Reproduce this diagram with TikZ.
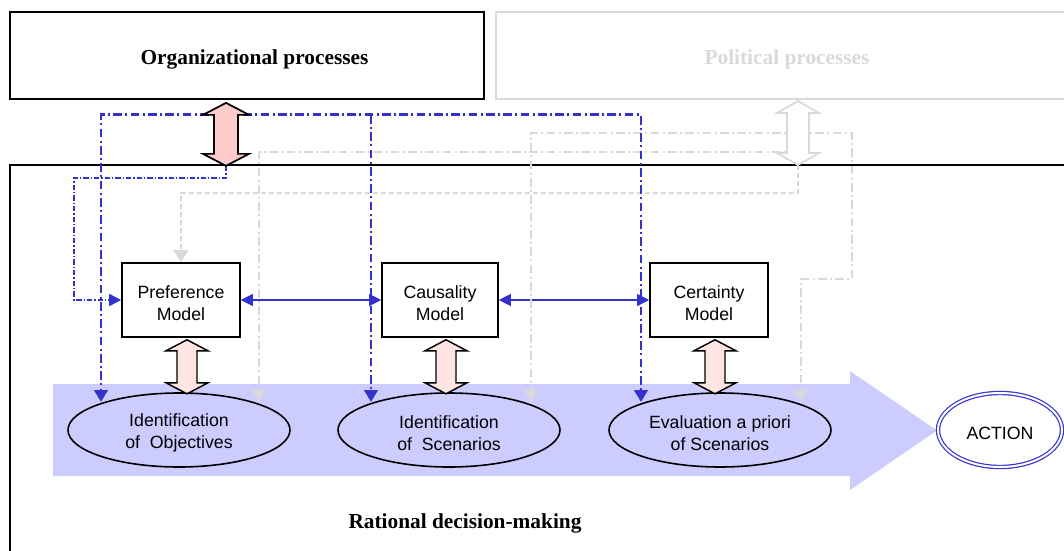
\documentclass[tikz,border=0pt]{standalone}
\usepackage{fontspec}
\setmainfont{Liberation Serif}
\setsansfont{Liberation Sans}
\usepackage{tikz}
\usetikzlibrary{arrows.meta,positioning,calc,shapes}

\definecolor{orgblue}{RGB}{51,51,204}
\definecolor{polgray}{RGB}{217,217,217}
\definecolor{flowblue}{RGB}{204,204,255}
\definecolor{bigpink}{RGB}{255,204,204}
\definecolor{smallpink}{RGB}{255,228,228}

% block double arrow: style, top tip, half head, half shaft, head length, bottom tip
\newcommand{\dblarrow}[6]{%
  \draw[#1] (#2) -- ++(#3,#5) -- ++({#4-#3},0) -- ($(#6)+(#4,-#5)$)
    -- ++({#3-#4},0) -- (#6) -- ++({-#3},{-#5}) -- ++({#3-#4},0)
    -- ($(#2)+(-#4,#5)$) -- ++({#4-#3},0) -- cycle;}

\begin{document}
\begin{tikzpicture}[x=0.75pt, y=-0.75pt,
    procbox/.style={draw, line width=1.3pt, minimum height=65.25pt, inner sep=0pt},
    titletext/.style={font=\fontsize{16}{19}\selectfont\bfseries},
    modelbox/.style={draw, line width=1.2pt, fill=white, minimum width=88.5pt,
      minimum height=55.5pt, align=center, font=\sffamily\fontsize{13.3}{16.5}\selectfont,
      execute at begin node={\rule{0pt}{30.5pt}}},
    stepell/.style={ellipse, draw, line width=1.2pt, fill=flowblue, minimum width=166.5pt,
      minimum height=55.5pt, inner sep=0pt, align=center,
      font=\sffamily\fontsize{13.3}{16.5}\selectfont,
      execute at begin node={\rule{0pt}{30.5pt}}},
    orgline/.style={orgblue, line width=2.2pt,
      dash pattern=on 6.5pt off 2.5pt on 1.5pt off 2.5pt,
      -{Triangle[length=9pt,width=10pt]}},
    orgdots/.style={orgblue, line width=1.2pt,
      dash pattern=on 4pt off 1.5pt on 1pt off 1.5pt,
      -{Triangle[length=9pt,width=9pt]}},
    polline/.style={polgray, line width=1.8pt,
      dash pattern=on 6.5pt off 2.5pt on 1.5pt off 2.5pt,
      -{Triangle[length=9pt,width=10pt]}},
    poldots/.style={polgray, line width=1.5pt, dash pattern=on 4pt off 2pt,
      -{Triangle[length=9pt,width=11pt]}},
    modellink/.style={orgblue, line width=0.9pt,
      {Triangle[length=9pt,width=9pt]}-{Triangle[length=9pt,width=9pt]}}]

  \useasboundingbox (0,0) rectangle (1064,550);

  % frames
  \node[procbox, minimum width=795pt, minimum height=296.25pt] (rdm) at (540,362.5) {};
  \node[procbox, minimum width=355.5pt] (org) at (247,55.5) {};
  \node[procbox, draw=polgray, minimum width=430.5pt] (pol) at (783,55.5) {};
  \node[titletext] (orglabel) at (254.5,59) {Organizational processes};
  \node[titletext, text=polgray] (pollabel) at (787,59) {Political processes};
  \node[titletext] (rdmlabel) at (465,523) {Rational decision-making};

  % flow of the decision
  \fill[flowblue] (53,384) -- (850,384) -- (850,371) -- (937,430.5)
    -- (850,490) -- (850,476) -- (53,476) -- cycle;

  \node[stepell] (obj) at (179,430) {Identification\\of\ \ Objectives};
  \node[stepell] (scen) at (449,430) {Identification\\of\ \ Scenarios};
  \node[stepell] (eval) at (720,430) {Evaluation a priori\\of Scenarios};
  \node[ellipse, draw=orgblue, line width=0.9pt, double=white, double distance=1.5pt,
    fill=white, minimum width=93pt, minimum height=55.5pt, inner sep=0pt, text height=14pt,
    font=\sffamily\fontsize{13.3}{16}\selectfont] (action) at (1000,430) {ACTION};

  \node[modelbox] (pref) at (181,300) {Preference\\Model};
  \node[modelbox, minimum width=87pt] (causal) at (440,300) {Causality\\Model};
  \node[modelbox] (cert) at (709,300) {Certainty\\Model};

  \draw[modellink] (pref) -- (causal);
  \draw[modellink] (causal) -- (cert);

  % ends of the big arrows
  \coordinate (orgA) at ($(org.south)+(-21,3)$);
  \coordinate (orgB) at ($(org.south)+(-21,66)$);
  \coordinate (polA) at (798,101);
  \coordinate (polB) at (798,165);

  \coordinate (objL) at ($(obj.center)+(-78,-28)$);
  \coordinate (objR) at ($(obj.center)+(80,-28)$);
  \coordinate (scenL) at ($(scen.center)+(-78,-28)$);
  \coordinate (scenR) at ($(scen.center)+(82,-28)$);
  \coordinate (evalL) at ($(eval.center)+(-79,-28)$);
  \coordinate (evalR) at ($(eval.center)+(81,-28)$);

  % political links
  \draw[polline] ($(polA)+(0,51)$) -| (objR);
  \draw[polline] ($(polA)+(0,32)$) -| (scenR);
  \draw[polline] ($(polA)+(0,32)$) -| ++(54,146) -| (evalR);
  \draw[poldots] (polB) |- ($(pref.north)+(0,-69)$) -- (pref.north);

  % organizational links
  \coordinate (orglink) at ($(orgA)+(0,12)$);
  \draw[orgline] (orglink) -| (objL);
  \draw[orgline] (orglink) -| (evalL);
  \draw[orgline] (orglink -| scenL) -- (scenL);
  \draw[orgdots] (orgB) |- ($(pref.west)+(-47,-122)$) |- (pref.west);

  % block arrows
  \dblarrow{draw=black, fill=bigpink, line width=1.3pt}{orgA}{23}{12}{12}{orgB}
  \dblarrow{draw=polgray, fill=white, line width=1.3pt}{polA}{21}{11}{12}{polB}

  \coordinate (prefA) at ($(pref.south)+(6,2)$);
  \coordinate (prefB) at ($(pref.south)+(6,56)$);
  \coordinate (causalA) at ($(causal.south)+(6,2)$);
  \coordinate (causalB) at ($(causal.south)+(6,56)$);
  \coordinate (certA) at ($(cert.south)+(6,2)$);
  \coordinate (certB) at ($(cert.south)+(6,56)$);
  \dblarrow{draw=black, fill=smallpink, line width=1.1pt}{prefA}{21}{10}{11}{prefB}
  \dblarrow{draw=black, fill=smallpink, line width=1.1pt}{causalA}{21}{10}{11}{causalB}
  \dblarrow{draw=black, fill=smallpink, line width=1.1pt}{certA}{21}{10}{11}{certB}
\end{tikzpicture}
\end{document}
